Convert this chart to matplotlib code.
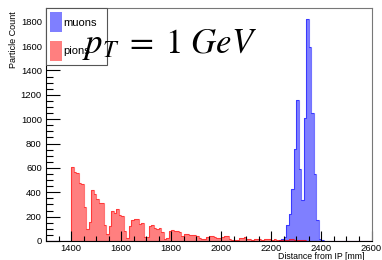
import numpy as np
import matplotlib
matplotlib.use("Agg")
import matplotlib.pyplot as plt
from matplotlib.patches import Patch
from matplotlib.ticker import MultipleLocator

plt.rcParams['font.family'] = ['Liberation Sans', 'DejaVu Sans']
plt.rcParams['mathtext.fontset'] = 'stix'

# histogram binning (mm)
x_min, x_max, bin_width = 1300, 2600, 10

# pion counts, first bin starts at 1400 mm
pion_start = 1400
pions = [608, 567, 559, 480, 466, 280, 96, 155, 417, 385,
         345, 315, 315, 135, 55, 125, 250, 230, 260, 215,
         205, 85, 28, 120, 170, 178, 184, 143, 150, 35,
         35, 120, 130, 110, 100, 107, 77, 15, 25, 85,
         90, 82, 80, 75, 40, 55, 60, 50, 50, 48,
         40, 22, 18, 20, 35, 42, 45, 35, 22, 28,
         30, 40, 38, 20, 12, 10, 12, 25, 28, 30,
         20, 15, 8, 15, 18, 15, 12, 15, 20, 15,
         12, 15, 10, 12, 10, 8, 12, 15, 14, 12,
         10, 8, 6, 5, 4, 3, 2, 2, 1]

# muon counts, first bin starts at 2220 mm
muon_start = 2220
muons = [3, 10, 15, 33, 129, 225, 425, 759, 1156, 595,
         334, 1011, 1822, 1589, 1055, 548, 170, 14, 5, 3]

edges = np.arange(x_min, x_max + bin_width, bin_width)
n_bins = len(edges) - 1


def full_hist(values, start):
    h = np.zeros(n_bins)
    i0 = (start - x_min) // bin_width
    h[i0:i0 + len(values)] = values
    return h


h_mu = full_hist(muons, muon_start)
h_pi = full_hist(pions, pion_start)

fig = plt.figure(figsize=(3.82, 2.60), dpi=100)
ax = fig.add_axes([46 / 382, 19 / 260, 325.5 / 382, 233 / 260])

blue = (0, 0, 1)
red = (1, 0, 0)
ax.stairs(h_mu, edges, fill=True, facecolor=(*blue, 0.5), edgecolor='none')
ax.stairs(h_mu, edges, color=(*blue, 0.55), linewidth=0.8)
ax.stairs(h_pi, edges, fill=True, facecolor=(*red, 0.5), edgecolor='none')
ax.stairs(h_pi, edges, color=(*red, 0.55), linewidth=0.8)

ax.set_xlim(x_min, x_max)
ax.set_ylim(0, 1.05 * max(muons))

ax.xaxis.set_major_locator(MultipleLocator(200))
ax.xaxis.set_minor_locator(MultipleLocator(50))
ax.yaxis.set_major_locator(MultipleLocator(200))
ax.yaxis.set_minor_locator(MultipleLocator(50))
ax.tick_params(axis='x', which='major', direction='in', length=7, width=0.8,
               labelsize=6.8, pad=2, top=False)
ax.tick_params(axis='x', which='minor', direction='in', length=3.5, width=0.8, top=False)
ax.tick_params(axis='y', which='major', direction='in', length=10, width=0.8,
               labelsize=6.8, pad=3, right=False)
ax.tick_params(axis='y', which='minor', direction='in', length=5, width=0.8, right=False)
for s in ax.spines.values():
    s.set_linewidth(0.8)
ax.spines['top'].set_color('#777777')
ax.spines['right'].set_color('#777777')

fig.text(365 / 382, 1 - 252 / 260, 'Distance from IP [mm]', ha='right', va='top', fontsize=6.3)
fig.text(9 / 382, 1 - 11 / 260, 'Particle Count', ha='left', va='top', rotation=90,
         fontsize=6.5)

handles = [Patch(facecolor=(*blue, 0.5), edgecolor='none', label='muons'),
           Patch(facecolor=(*red, 0.5), edgecolor='none', label='pions')]
leg = ax.legend(handles=handles, loc='upper left', bbox_to_anchor=(0, 0.5, 61 / 325.5, 0.5),
                mode='expand', borderaxespad=0, fontsize=8, handlelength=1.0,
                handleheight=2.35, handletextpad=0.2, labelspacing=0.8, borderpad=0.4,
                fancybox=False, framealpha=1, edgecolor='#555555')
leg.get_frame().set_linewidth(0.8)

fig.text(82 / 382, 1 - 53 / 260, r'$p_T\;=\;1\ GeV$', fontsize=25, va='baseline')

fig.savefig('out.png', dpi=100)
